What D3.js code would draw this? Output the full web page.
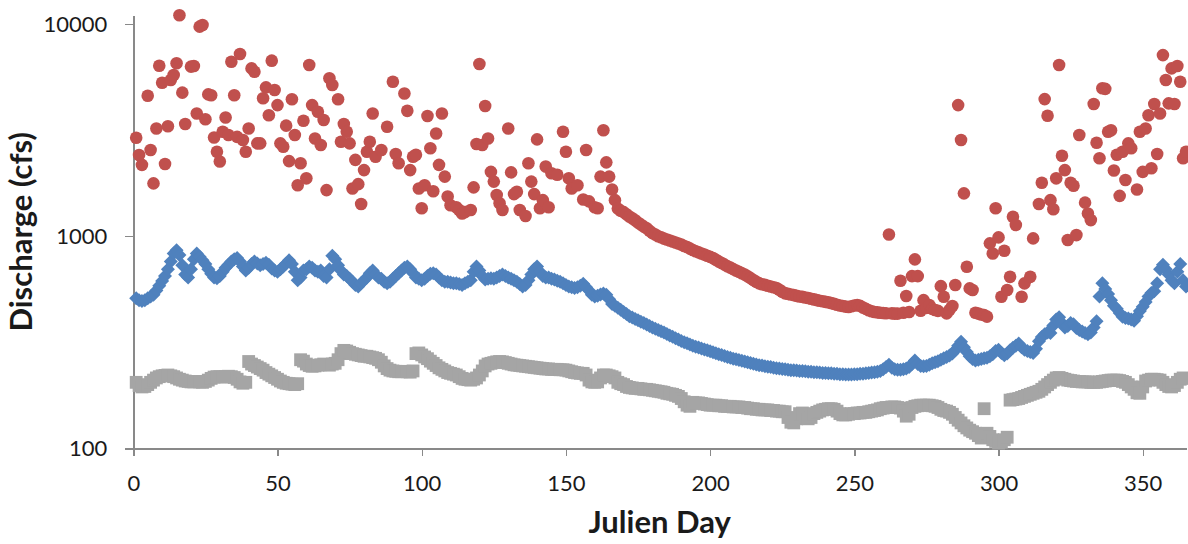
<!DOCTYPE html>
<html>
<head>
<meta charset="utf-8">
<script src="https://cdn.jsdelivr.net/npm/d3@7"></script>
<style>
  body { margin: 0; background: #fff; }
  .axis path, .axis line { stroke: #898989; stroke-width: 1.4px; shape-rendering: crispEdges; }
  .axis text { font-family: Lato, "Open Sans", sans-serif; font-size: 22px; fill: #1a1a1a; }
  .title { font-family: Lato, "Open Sans", sans-serif; font-size: 31px; font-weight: bold; fill: #1a1a1a; }
</style>
</head>
<body>
<div id="chart"></div>
<script>
// daily discharge (cfs) by julien day
var days = d3.range(1, 366);

var meanCfs = [
  510, 500, 495, 500, 510, 520, 530, 555, 585, 615,
  650, 700, 760, 830, 860, 815, 730, 660, 640, 700,
  780, 830, 800, 770, 740, 700, 665, 640, 635, 650,
  680, 710, 735, 760, 780, 790, 760, 720, 690, 710,
  740, 760, 745, 730, 740, 750, 735, 705, 690, 680,
  700, 720, 745, 770, 740, 680, 620, 640, 690, 700,
  720, 710, 690, 680, 690, 650, 640, 700, 810, 780,
  730, 690, 660, 650, 630, 610, 590, 580, 600, 620,
  640, 670, 690, 660, 640, 630, 610, 600, 610, 630,
  650, 670, 690, 710, 720, 700, 670, 640, 630, 620,
  630, 650, 665, 670, 660, 640, 620, 610, 610, 605,
  600, 600, 595, 590, 600, 610, 620, 680, 720, 690,
  650, 625, 630, 635, 630, 640, 650, 660, 650, 640,
  630, 620, 610, 595, 580, 590, 620, 660, 700, 720,
  680, 650, 640, 640, 630, 625, 618, 610, 600, 590,
  580, 575, 570, 575, 585, 598, 575, 555, 530, 520,
  525, 532, 538, 530, 505, 480, 470, 460, 450, 440,
  430, 420, 414, 408, 402, 396, 390, 384, 378, 372,
  367, 362, 357, 352, 346, 341, 336, 331, 326, 321,
  317, 313, 309, 305, 302, 299, 296, 293, 290, 287,
  284, 281, 278, 276, 273, 270, 268, 265, 263, 261,
  259, 257, 255, 253, 251, 249, 247, 246, 244, 243,
  242, 240, 239, 238, 237, 236, 235, 234, 234, 233,
  232, 232, 231, 230, 230, 229, 229, 228, 227, 227,
  226, 226, 225, 225, 224, 224, 223, 223, 223, 224,
  224, 225, 225, 226, 227, 228, 229, 230, 232, 236,
  242, 248, 240, 236, 235, 235, 236, 238, 242, 250,
  260, 250, 245, 244, 245, 248, 252, 255, 258, 262,
  266, 270, 274, 280, 290, 305, 318, 300, 285, 272,
  264, 260, 262, 264, 266, 268, 272, 278, 288, 292,
  282, 275, 280, 290, 298, 305, 312, 300, 292, 288,
  285, 282, 295, 320, 335, 345, 352, 350, 380, 405,
  415, 390, 372, 378, 390, 385, 370, 362, 356, 350,
  345, 352, 372, 398, 520, 600, 565, 535, 500, 470,
  455, 435, 418, 412, 410, 405, 400, 420, 445, 465,
  490, 520, 540, 550, 600, 700, 735, 700, 660, 620,
  600, 680, 740, 620, 580
];

var minCfs = [
  205, 198, 195, 196, 200, 205, 210, 215, 218, 220,
  221, 222, 220, 218, 215, 212, 210, 208, 207, 206,
  206, 207, 206, 205, 207, 210, 214, 217, 218, 218,
  217, 218, 219, 218, 216, 212, 206, 203, 205, 257,
  250, 246, 242, 238, 234, 228, 224, 220, 216, 212,
  208, 205, 203, 202, 201, 200, 202, 262, 258, 250,
  246, 244, 245, 247, 248, 250, 249, 247, 250, 252,
  262, 280, 290, 288, 284, 280, 278, 276, 274, 272,
  272, 270, 268, 266, 262, 255, 245, 238, 234, 232,
  231, 230, 230, 231, 230, 229, 232, 280, 282, 276,
  270, 265, 258, 252, 246, 240, 236, 232, 228, 226,
  224, 222, 218, 214, 212, 211, 210, 212, 215, 222,
  232, 245, 250, 252, 254, 256, 257, 256, 254, 252,
  250, 248, 247, 246, 245, 244, 243, 242, 241, 240,
  239, 238, 237, 237, 236, 236, 236, 235, 235, 234,
  232, 230, 228, 227, 226, 226, 222, 210, 206, 205,
  206, 215, 222, 222, 220, 218, 215, 205, 202, 200,
  196, 194, 193, 192, 192, 191, 190, 190, 189, 188,
  187, 186, 185, 184, 182, 181, 180, 178, 176, 172,
  166, 160, 158, 165, 164, 164, 163, 162, 161, 160,
  160, 160, 159, 159, 158, 158, 158, 157, 157, 157,
  156, 156, 155, 154, 154, 153, 153, 152, 152, 152,
  151, 151, 150, 150, 149, 149, 140, 133, 132, 138,
  146, 147, 140, 138, 140, 146, 148, 150, 152, 153,
  154, 154, 153, 150, 146, 144, 144, 145, 146, 146,
  147, 147, 148, 148, 149, 150, 151, 152, 154, 155,
  156, 156, 157, 157, 156, 155, 150, 142, 145, 156,
  158, 159, 160, 160, 160, 160, 159, 158, 156, 153,
  151, 150, 148, 145, 140, 136, 132, 128, 125, 122,
  120, 118, 115, 112, 154, 118, 114, 110, 108, 106,
  107, 110, 113, 169, 170, 171, 172, 174, 176, 178,
  180, 182, 184, 186, 190, 195, 200, 205, 210, 215,
  216, 214, 212, 210, 209, 208, 207, 207, 206, 206,
  206, 205, 205, 205, 206, 207, 208, 209, 210, 210,
  210, 209, 207, 205, 200, 195, 190, 183, 182, 195,
  208, 210, 212, 212, 211, 210, 205, 200, 196, 195,
  198, 205, 212, 215, 214
];

// max flow: [day, cfs] (scattered, some days hidden under others)
var maxFlow = [
  [1,2910],[2,2415],[3,2170],[5,4590],[6,2550],[7,1775],[8,3220],[9,6360],[10,5290],
  [11,2190],[12,3300],[13,5450],[14,5750],[15,6530],[16,11000],[17,4750],[18,3380],[20,6300],
  [21,6340],[22,3790],[23,9720],[24,9890],[25,3560],[26,4660],[27,4620],[28,2920],[29,2500],[30,2250],
  [31,3110],[32,3630],[33,3000],[34,6640],[35,4620],[36,2940],[37,7220],[38,2840],[39,2500],[40,3220],
  [41,6180],[42,5960],[43,2740],[44,2740],[45,4470],[46,5030],[47,3720],[48,6720],[49,4890],[50,4150],
  [51,2740],[52,2640],[53,3320],[54,2260],[55,4420],[56,3000],[57,1740],[58,2210],[59,3500],[60,1875],
  [61,6410],[62,4150],[63,2890],[64,3860],[65,2690],[66,3530],[67,1650],[68,5550],[69,5160],
  [71,4420],[72,2790],[73,3380],[74,3110],[75,2740],[76,1680],[77,2290],[78,1760],[79,1420],[80,2050],
  [81,2500],[82,2790],[83,3790],[84,2370],[86,2550],[88,3280],[90,5350],
  [91,2440],[92,2210],[94,4710],[95,3900],[96,2050],[97,2370],[98,2420],[99,1680],[100,1355],
  [101,1740],[102,3690],[103,2600],[104,1630],[105,3050],[106,2170],[107,3790],[108,1910],[109,1540],[110,1400],
  [112,1370],[113,1330],[114,1280],[115,1300],[117,1330],[118,1700],[119,2720],[120,6480],
  [121,2690],[122,4110],[123,2890],[124,2010],[125,1810],[126,1565],[127,1430],[128,1330],[130,3220],
  [131,2000],[132,1580],[133,1620],[134,1330],[136,1245],[137,2210],[138,1810],[139,1580],[140,2860],
  [141,1355],[142,1480],[143,2130],[144,1370],[145,1980],[147,1950],[149,3110],[150,2500],
  [151,1875],[152,1680],[154,1740],[156,1490],[157,2550],[158,1460],[160,1370],
  [161,1355],[162,1910],[163,3160],[164,2230],[165,1910],[166,1660],[167,1480],[168,1350],[169,1320],[170,1300],
  [171,1270],[172,1240],[173,1215],[174,1190],[175,1160],[176,1135],[177,1110],[178,1090],[179,1060],[180,1035],
  [181,1020],[182,1000],[183,990],[184,975],[185,965],[186,955],[187,945],[188,935],[189,925],[190,915],
  [191,900],[192,890],[193,875],[194,862],[195,850],[196,840],[197,830],[198,820],[199,810],[200,800],
  [201,790],[202,775],[203,760],[204,748],[205,735],[206,722],[207,712],[208,700],[209,690],[210,680],
  [211,670],[212,660],[213,648],[214,635],[215,622],[216,610],[217,600],[218,594],[219,590],[220,585],
  [221,580],[222,575],[223,570],[224,560],[225,548],[226,538],[227,535],[228,532],[229,528],[230,524],
  [231,520],[232,518],[233,515],[234,512],[235,508],[236,504],[237,500],[238,497],[239,494],[240,491],
  [241,488],[242,484],[243,480],[244,476],[245,472],[246,469],[247,466],[248,464],[249,468],[250,472],
  [251,474],[252,470],[253,462],[254,455],[255,448],[256,443],[257,440],[258,438],[259,436],[260,435],
  [261,434],[262,1020],[263,433],[264,432],[265,432],[266,617],[267,436],[268,523],[269,440],[270,649],
  [271,778],[272,649],[273,446],[274,500],[275,460],[276,474],[277,455],[278,449],[279,445],[280,582],
  [281,519],[282,433],[283,450],[284,469],[285,589],[286,4150],[287,2840],[288,1593],[289,718],[290,568],
  [291,558],[292,436],[293,432],[294,428],[295,425],[296,418],[297,926],[298,830],[299,1355],[300,988],
  [301,519],[302,855],[303,558],[304,644],[305,1236],[306,1130],[308,519],[309,600],
  [311,644],[312,977],[314,1420],[315,1787],[316,4430],[317,3700],[318,1480],[319,1340],[320,1875],
  [321,6410],[322,2395],[323,2050],[324,960],[325,1787],[326,1730],[327,1013],[328,3000],[330,1440],
  [331,1280],[332,1192],[333,4200],[334,2760],[335,2330],[336,4980],[337,4950],[338,3110],[339,3160],[340,2040],
  [341,2420],[342,1550],[343,2500],[344,1840],[345,2740],[346,2600],[348,1660],[349,3110],[350,2010],
  [351,3220],[352,3720],[353,2090],[354,4200],[355,2440],[356,3790],[357,7140],[358,5450],[359,4230],[360,6180],
  [361,4200],[362,6340],[363,5350],[364,2330],[365,2500]
];

var xTicks = [0, 50, 100, 150, 200, 250, 300, 350];
var yTicks = [100, 1000, 10000];

var svgWidth = 1188, svgHeight = 544;
var margin = {top: 15, right: 2, bottom: 95.5, left: 133.3};

var svg = d3.select('#chart').append('svg')
    .attr('width', svgWidth)
    .attr('height', svgHeight);

var xScale = d3.scaleLinear().domain([0, 365]).range([margin.left, svgWidth - margin.right]),
    yScale = d3.scaleLog().domain([100, 11030]).range([svgHeight - margin.bottom, margin.top]);

// axes
svg.append('g')
    .attr('class', 'axis')
    .attr('transform', 'translate(0,' + (svgHeight - margin.bottom) + ')')
    .call(d3.axisBottom(xScale).tickValues(xTicks).tickSize(7).tickSizeOuter(0).tickPadding(20).tickFormat(d3.format('d')));

svg.append('g')
    .attr('class', 'axis')
    .attr('transform', 'translate(' + margin.left + ',0)')
    .call(d3.axisLeft(yScale).tickValues(yTicks).tickSize(8).tickSizeOuter(0).tickPadding(18).tickFormat(d3.format('d')));

// min - gray squares
var sq = 12.8;
svg.append('g').selectAll('rect')
    .data(days)
    .enter().append('rect')
    .attr('x', function(d) { return xScale(d) - sq / 2; })
    .attr('y', function(d, i) { return yScale(minCfs[i]) - sq / 2; })
    .attr('width', sq)
    .attr('height', sq)
    .attr('fill', '#A5A5A5');

// mean - blue diamonds
var dm = 7;
svg.append('g').selectAll('path')
    .data(days)
    .enter().append('path')
    .attr('d', 'M0,' + (-dm) + 'L' + dm + ',0L0,' + dm + 'L' + (-dm) + ',0Z')
    .attr('transform', function(d, i) { return 'translate(' + xScale(d) + ',' + yScale(meanCfs[i]) + ')'; })
    .attr('fill', '#4F81BD');

// max - red circles
svg.append('g').selectAll('circle')
    .data(maxFlow)
    .enter().append('circle')
    .attr('cx', function(d) { return xScale(d[0]); })
    .attr('cy', function(d) { return yScale(d[1]); })
    .attr('r', 6.3)
    .attr('fill', '#C0504D');

// axis titles
svg.append('text')
    .attr('class', 'title')
    .attr('text-anchor', 'middle')
    .attr('x', (margin.left + svgWidth - margin.right) / 2)
    .attr('y', 533)
    .text('Julien Day');

svg.append('text')
    .attr('class', 'title')
    .attr('text-anchor', 'middle')
    .attr('transform', 'translate(32,' + ((margin.top + svgHeight - margin.bottom) / 2) + ') rotate(-90)')
    .text('Discharge (cfs)');
</script>
</body>
</html>
